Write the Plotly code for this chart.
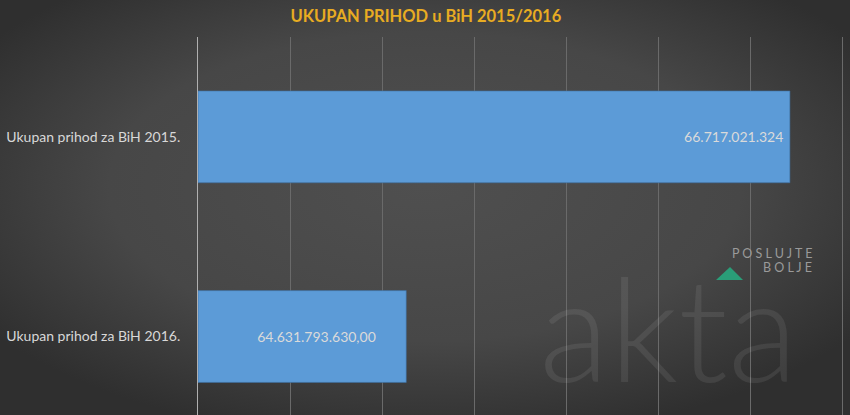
import plotly.graph_objects as go
import urllib.parse

categories = ["Ukupan prihod za BiH 2016.", "Ukupan prihod za BiH 2015."]
values = [64631793630.00, 66717021324]
value_labels = ["64.631.793.630,00", "66.717.021.324"]
title_text = "UKUPAN PRIHOD u BiH 2015/2016"

W, H = 850, 415
L, T = 198, 37
PW, PH = W - L, H - T


def px_x(px):
    return (px - L) / PW


def px_y(py):
    return (H - py) / PH


fig = go.Figure()

fig.add_trace(go.Bar(
    y=[categories[0]], x=[values[0] - 63.5e9], base=63.5e9, orientation="h",
    width=0.46, marker=dict(color="#5c9bd7", line=dict(color="#3c6c9c", width=0.6)),
    text=[value_labels[0]], texttemplate="\u00a0" * 8 + "%{text}",
    textposition="inside", insidetextanchor="middle",
    textfont=dict(color="#dadada", size=14, family="Lato"), hoverinfo="skip",
))
fig.add_trace(go.Bar(
    y=[categories[1]], x=[values[1] - 63.5e9], base=63.5e9, orientation="h",
    width=0.46, marker=dict(color="#5c9bd7", line=dict(color="#3c6c9c", width=0.6)),
    text=[value_labels[1]], texttemplate="%{text}\u00a0", textposition="inside", insidetextanchor="end",
    textfont=dict(color="#dadada", size=14, family="Lato"), hoverinfo="skip",
))

svg = (
    '<svg xmlns="http://www.w3.org/2000/svg" width="850" height="415">'
    '<defs><radialGradient id="g" cx="0.5" cy="0.45" r="0.62">'
    '<stop offset="0" stop-color="#4f4f4f"/>'
    '<stop offset="0.6" stop-color="#474747"/>'
    '<stop offset="1" stop-color="#2f2f2f"/>'
    '</radialGradient></defs>'
    '<rect width="850" height="415" fill="url(#g)"/></svg>'
)
bg_src = "data:image/svg+xml;charset=utf-8," + urllib.parse.quote(svg)

images = [dict(source=bg_src, xref="paper", yref="paper", x=px_x(0), y=px_y(0),
               sizex=W / PW, sizey=H / PH, xanchor="left", yanchor="top",
               sizing="stretch", layer="below")]

shapes = [dict(type="path", xref="paper", yref="paper",
               path=f"M {px_x(716)},{px_y(280)} L {px_x(730)},{px_y(267)} L {px_x(743)},{px_y(280)} Z",
               fillcolor="#2a9d78", line=dict(width=0), layer="above")]

annotations = [
    dict(text="akta", xref="paper", yref="paper", x=px_x(668), y=px_y(326), xanchor="center",
         yanchor="middle", showarrow=False,
         font=dict(family="Lato", size=145, color="rgba(255,255,255,0.08)", weight=300)),
    dict(text="P O S L U J T E", xref="paper", yref="paper", x=px_x(814), y=px_y(253), xanchor="right",
         yanchor="middle", showarrow=False, font=dict(family="Lato", size=12.5, color="#9a9a9a")),
    dict(text="B O L J E", xref="paper", yref="paper", x=px_x(814), y=px_y(267), xanchor="right",
         yanchor="middle", showarrow=False, font=dict(family="Lato", size=12.5, color="#9a9a9a")),
]

fig.update_layout(
    width=W, height=H,
    margin=dict(l=L, r=0, t=T, b=0),
    paper_bgcolor="#444444", plot_bgcolor="rgba(0,0,0,0)",
    barmode="overlay", showlegend=False,
    title=dict(text="<b>" + title_text + "</b>", x=0.501, xanchor="center", y=1 - 16 / H, yanchor="middle",
               font=dict(family="Lato", size=16.5, color="#e8ac22")),
    xaxis=dict(range=[63.5e9, 63.5e9 + PW / 184 * 1e9], dtick=0.5e9, tick0=63.5e9, showticklabels=False,
               showgrid=True, gridcolor="#6a6a6a", gridwidth=1, zeroline=False,
               showline=False, fixedrange=True),
    yaxis=dict(type="category", categoryorder="array", categoryarray=categories,
               range=[-0.393, 1.5], showgrid=False, showline=True, linecolor="#b0b0b0", linewidth=1,
               ticks="outside", ticklen=14, tickcolor="rgba(0,0,0,0)", fixedrange=True,
               tickfont=dict(family="Lato", size=14, color="#d8d8d8")),
    shapes=shapes, annotations=annotations, images=images,
)

fig.write_html("out.html", config={"displayModeBar": False},
               post_script="document.body.style.margin='0';")
